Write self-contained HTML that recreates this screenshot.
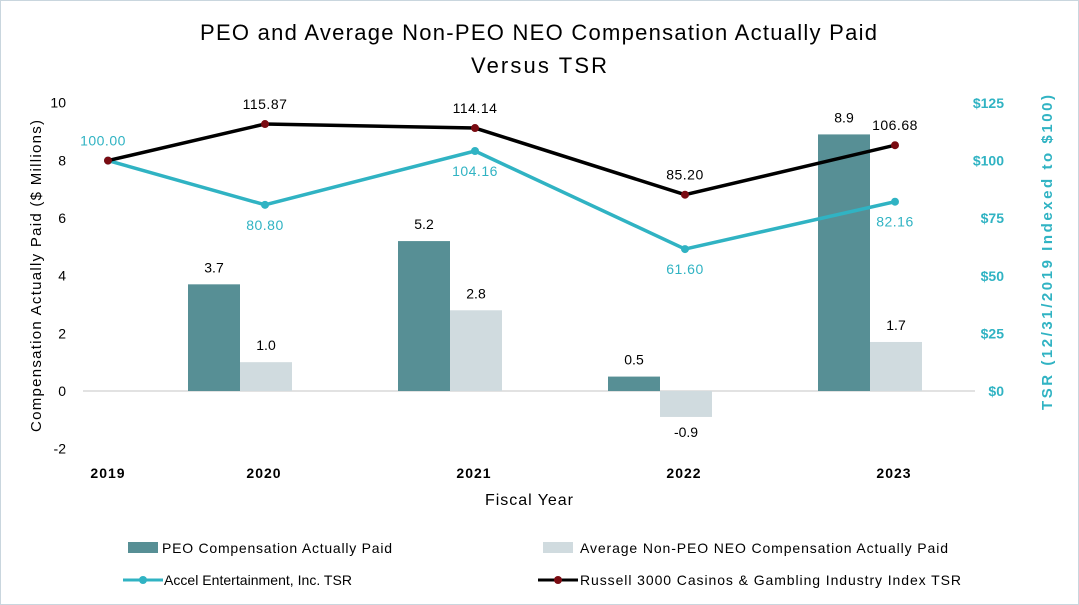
<!DOCTYPE html>
<html><head><meta charset="utf-8"><style>
body{margin:0;background:#fff;}
svg{display:block;font-family:"Liberation Sans",Arial,sans-serif;}
</style></head><body>
<svg id="c" width="1079" height="605" xmlns="http://www.w3.org/2000/svg">
<rect x="0.5" y="0.5" width="1078" height="604" fill="#fff" stroke="#c9d6de"/>
<text x="200" y="40" font-size="22" textLength="677" lengthAdjust="spacing" fill="#000">PEO and Average Non-PEO NEO Compensation Actually Paid</text>
<text x="471" y="73" font-size="22" textLength="136" lengthAdjust="spacing" fill="#000">Versus TSR</text>
<text transform="translate(41,432) rotate(-90)" font-size="15" textLength="312" lengthAdjust="spacing" fill="#000">Compensation Actually Paid ($ Millions)</text>
<text transform="translate(1052,410) rotate(-90)" font-size="15" font-weight="bold" textLength="315" lengthAdjust="spacing" fill="#30b3c3">TSR (12/31/2019 Indexed to $100)</text>
<text x="485" y="505" font-size="16" textLength="88" lengthAdjust="spacing" fill="#000">Fiscal Year</text>
<g id="g"></g>
</svg>
<script>
const categories=["2019","2020","2021","2022","2023"];
const peo=[null,3.7,5.2,0.5,8.9];
const nonPeo=[null,1.0,2.8,-0.9,1.7];
const accelTSR=[100.00,80.80,104.16,61.60,82.16];
const russellTSR=[100.00,115.87,114.14,85.20,106.68];
const leftTicks=[10,8,6,4,2,0,-2];
const rightTicks=[125,100,75,50,25,0];

const NS="http://www.w3.org/2000/svg";
const g=document.getElementById('g');
function el(t,a,txt){const e=document.createElementNS(NS,t);for(const k in a)e.setAttribute(k,a[k]);if(txt!==undefined)e.textContent=txt;g.appendChild(e);return e;}
const yL=v=>391-v*28.83;
const yR=v=>391-v*2.304;
const groupX=i=>30+210*i;
const lineX=i=>i===0?108:groupX(i)+25;
const labelX=i=>i===0?108:groupX(i)+24;

leftTicks.forEach(t=>{const e=el('text',{x:66,y:yL(t)+5,'font-size':14,'text-anchor':'end',fill:'#000'},String(t));

});
rightTicks.forEach(t=>{const e=el('text',{x:1004,y:yR(t)+5,'font-size':14,'font-weight':'bold','text-anchor':'end',fill:'#30b3c3'},'$'+t);

});
const zl=el('line',{x1:83,x2:975,y1:yL(0),y2:yL(0),stroke:'#d9d9d9','stroke-width':1.5});


categories.forEach((c,i)=>{const e=el('text',{x:labelX(i),y:478,'font-size':14,'font-weight':'bold','text-anchor':'middle',fill:'#000','letter-spacing':'1'},c);

});

const bw=52;
categories.forEach((c,i)=>{
 [[peo,'#578f95',-bw,'peo'],[nonPeo,'#d0dbdf',0,'non-peo']].forEach(([arr,col,off,nm])=>{
  const v=arr[i]; if(v===null)return;
  const x=groupX(i)+off, y0=yL(0), y1=yL(v);
  const r=el('rect',{x:x,y:Math.min(y0,y1),width:bw,height:Math.abs(y1-y0),fill:col});
  
  
  const ty=v>=0?y1-12:y1+20;
  const t=el('text',{x:x+bw/2,y:ty,'font-size':14,'text-anchor':'middle',fill:'#000'},v.toFixed(1));
  
  
 });
});

function series(arr,col,mk,nm,labCol,labPos,skipFirst){
 const pts=arr.map((v,i)=>lineX(i)+','+yR(v)).join(' ');
 const p=el('polyline',{points:pts,fill:'none',stroke:col,'stroke-width':3.5});
 
 
 arr.forEach((v,i)=>{
  const m=el('circle',{cx:lineX(i),cy:yR(v),r:4,fill:mk});
  
  
  if(skipFirst&&i===0)return;
  const up=labPos(i);
  const lx=(nm==='accel'&&i===0)?lineX(i)-5:lineX(i);
  const t=el('text',{x:lx,y:up?yR(v)-15:yR(v)+25,'font-size':14,'text-anchor':'middle',fill:labCol,'letter-spacing':'0.5'},v.toFixed(2));
  
  
 });
}
series(accelTSR,'#30b3c3','#30b3c3','accel','#30b3c3',i=>i===0,false);
series(russellTSR,'#000','#7a0b12','russell','#000',i=>true,true);

// legend
const lg=[[128,548,'rect','#578f95','PEO Compensation Actually Paid','legend-peo',162,230],
 [543,548,'rect','#d0dbdf','Average Non-PEO NEO Compensation Actually Paid','legend-non-peo',580,368],
 [123,580,'line','#30b3c3','Accel Entertainment, Inc. TSR','legend-accel',164,188],
 [538,580,'line','#000','Russell 3000 Casinos & Gambling Industry Index TSR','legend-russell',580,381]];
lg.forEach(([x,y,k,col,txt,nm,tx,tl])=>{
 let m;
 if(k==='rect'){m=el('rect',{x:x,y:y-6,width:30,height:11,fill:col});}
 else{m=el('line',{x1:x,x2:x+40,y1:y,y2:y,stroke:col,'stroke-width':3});
  const d=el('circle',{cx:x+20,cy:y,r:4,fill:nm==='legend-russell'?'#7a0b12':col});
  
  }
 
 
 const t=el('text',{x:tx,y:y+5,'font-size':14,fill:'#000',textLength:tl,lengthAdjust:'spacing'},txt);
 
 
});
</script>
</body></html>
